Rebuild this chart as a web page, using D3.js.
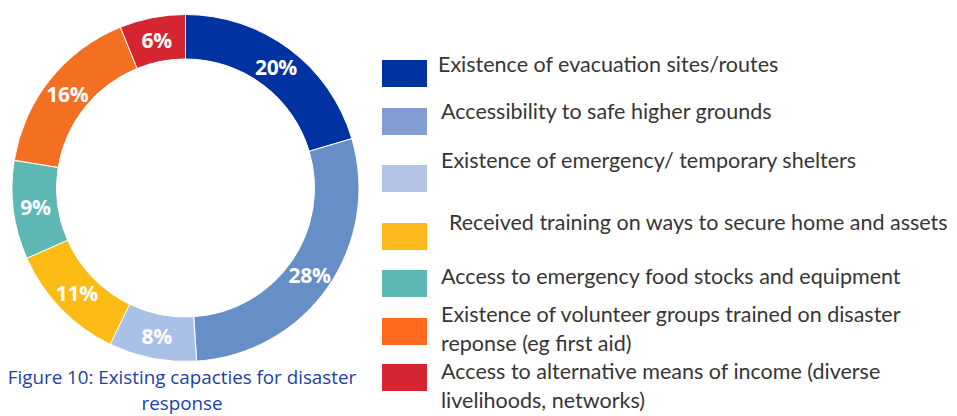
<!DOCTYPE html>
<html>
<head>
<meta charset="utf-8">
<script src="https://cdn.jsdelivr.net/npm/d3@7"></script>
<style>
  html, body { margin: 0; padding: 0; background: #fff; }
  svg { display: block; }
</style>
</head>
<body>
<svg id="chart" width="957" height="416"></svg>
<script>
// Share of respondents reporting each existing disaster-response capacity (%)
const categories = [
  "Existence of evacuation sites/routes",
  "Accessibility to safe higher grounds",
  "Existence of emergency/ temporary shelters",
  "Received training on ways to secure home and assets",
  "Access to emergency food stocks and equipment",
  "Existence of volunteer groups trained on disaster reponse (eg first aid)",
  "Access to alternative means of income (diverse livelihoods, networks)"
];
const values = [20, 28, 8, 11, 9, 16, 6];

// Legend text, wrapped as set in the key
const legendLines = [
  ["Existence of evacuation sites/routes"],
  ["Accessibility to safe higher grounds"],
  ["Existence of emergency/ temporary shelters"],
  ["Received training on ways to secure home and assets"],
  ["Access to emergency food stocks and equipment"],
  ["Existence of volunteer groups trained on disaster", "reponse (eg first aid)"],
  ["Access to alternative means of income (diverse", "livelihoods, networks)"]
];

const captionLines = ["Figure 10: Existing capacties for disaster", "response"];

// Styling
const sliceColors  = ["#0033a1", "#678fc7", "#a9c1e6", "#fdbb16", "#5db8b3", "#f37022", "#d42530"];
const legendColors = ["#0033a1", "#829dd2", "#b3c3e3", "#fdb81e", "#5db8b3", "#ff6a1e", "#d42530"];

// Key layout: swatch top, first-line baseline and text indent for each row
const legendSwatchTop = [60, 108, 165, 223, 270, 318, 364];
const legendBaseline  = [72, 119, 168, 230, 284, 322, 379];
const legendTextX     = [438, 441, 441, 449, 441, 441, 441];

const svg = d3.select("#chart");

// ---- Donut ----
const cx = 185.5, cy = 188, outerR = 173.5, innerR = 129;

const pie = d3.pie().sort(null).value(d => d);
const arcs = pie(values);

const arc = d3.arc().innerRadius(innerR).outerRadius(outerR);

const g = svg.append("g").attr("transform", `translate(${cx},${cy})`);

g.selectAll("path.slice")
  .data(arcs)
  .join("path")
  .attr("class", "slice")
  .attr("d", arc)
  .attr("fill", (d, i) => sliceColors[i])
  .attr("stroke", "#ffffff")
  .attr("stroke-width", 1);

g.selectAll("text.pct")
  .data(arcs)
  .join("text")
  .attr("class", "pct")
  .attr("transform", d => `translate(${arc.centroid(d)})`)
  .attr("text-anchor", "middle")
  .attr("dominant-baseline", "central")
  .attr("fill", "#ffffff")
  .attr("font-family", "'Open Sans', 'Noto Sans', sans-serif")
  .attr("font-weight", 700)
  .attr("font-size", 21)
  .attr("letter-spacing", -0.3)
  .text(d => d.data + "%");

// ---- Caption ----
svg.append("g")
  .selectAll("text")
  .data(captionLines)
  .join("text")
  .attr("x", 182)
  .attr("y", (d, i) => 384 + i * 25.5)
  .attr("text-anchor", "middle")
  .attr("fill", "#1b3fa6")
  .attr("font-family", "'Open Sans', 'Noto Sans', sans-serif")
  .attr("font-size", 18.8)
  .text(d => d);

// ---- Legend ----
const legend = svg.append("g").attr("class", "legend");
const rows = legend.selectAll("g.row")
  .data(categories)
  .join("g")
  .attr("class", "row");

rows.append("rect")
  .attr("x", 382)
  .attr("y", (d, i) => legendSwatchTop[i])
  .attr("width", 45)
  .attr("height", 27)
  .attr("fill", (d, i) => legendColors[i]);

rows.each(function (d, i) {
  d3.select(this).selectAll("text")
    .data(legendLines[i])
    .join("text")
    .attr("x", legendTextX[i])
    .attr("y", (t, j) => legendBaseline[i] + j * 28.5)
    .attr("fill", "#363636")
    .attr("font-family", "Lato, 'Noto Sans', sans-serif")
    .attr("font-size", 21.5)
    .text(t => t);
});
</script>
</body>
</html>
